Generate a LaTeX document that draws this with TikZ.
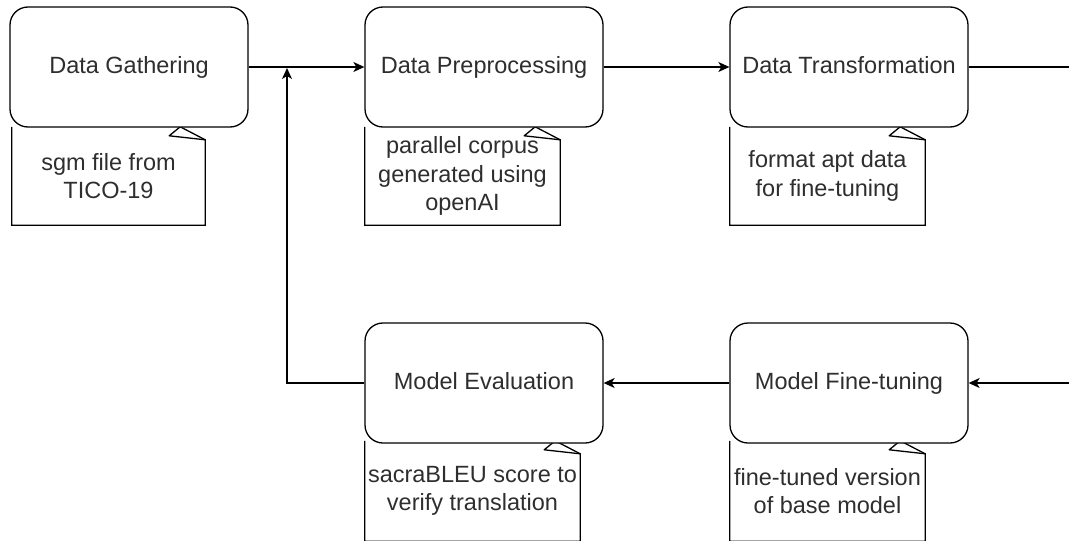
\documentclass[tikz,border=0pt]{standalone}
\usepackage{fontspec}
\setmainfont{Liberation Sans}
\usetikzlibrary{arrows.meta}
\begin{document}
\begin{tikzpicture}[x=1pt,y=-1pt,
  txt/.style={text=black!82,font=\fontsize{23.5}{28.5}\selectfont},
  stepbox/.style={txt,draw,line width=1.3pt,fill=white,rounded corners=18pt,
    minimum width=238pt,minimum height=120pt,inner sep=0pt,align=center,
    text height=17pt,text depth=5pt},
  notebox/.style={txt,inner sep=0pt,minimum height=98pt,align=center},
  arr/.style={line width=1.3pt,-{Stealth[length=11pt,width=10pt,inset=3pt]}},
  ln/.style={line width=1.3pt}]
\useasboundingbox (0,0) rectangle (1069,541);
\clip (0,0) rectangle (1069,541);
% notes
\node[notebox,minimum width=193pt] (n1) at (108.5,176) {sgm file from\\TICO-19};
\node[notebox,minimum width=195pt] (n2) at (462.5,176) {parallel corpus\\generated using\\openAI};
\node[notebox,minimum width=195pt] (n3) at (827.5,176) {format apt data\\for fine-tuning};
\node[notebox,minimum width=215pt,minimum height=100pt] (n4) at (472.5,491) {sacraBLEU score to\\verify translation};
\node[notebox,minimum width=195pt,minimum height=100pt] (n5) at (827.5,491) {fine-tuned version\\of base model};
\foreach \n in {n1,n2,n3,n4,n5}{
  \draw[ln] ([xshift=-25pt]\n.north east) -- ([yshift=-13pt]\n.north east) -- (\n.south east)
        -- (\n.south west) -- (\n.north west);
  \draw[ln,line join=round] ([xshift=-25pt]\n.north east) -- ([xshift=-36pt,yshift=-9pt]\n.north east)
        -- ([yshift=-13pt]\n.north east);
}
% boxes
\node[stepbox] (b1) at (129,67) {Data Gathering};
\node[stepbox] (b2) at (484,67) {Data Preprocessing};
\node[stepbox] (b3) at (849,67) {Data Transformation};
\node[stepbox] (b4) at (484,383) {Model Evaluation};
\node[stepbox] (b5) at (849,383) {Model Fine-tuning};
% connectors
\coordinate (r1) at (1075,67);
\coordinate (r2) at (1075,383);
\coordinate (j) at (287,68);
\draw[arr] (b1.east) -- (b2.west);
\draw[arr] (b2.east) -- (b3.west);
\draw[ln] (b3.east) -- (r1);
\draw[arr] (r2) -- (b5.east);
\draw[arr] (b5.west) -- (b4.east);
\draw[arr] (b4.west) -| (j);
\end{tikzpicture}
\end{document}
